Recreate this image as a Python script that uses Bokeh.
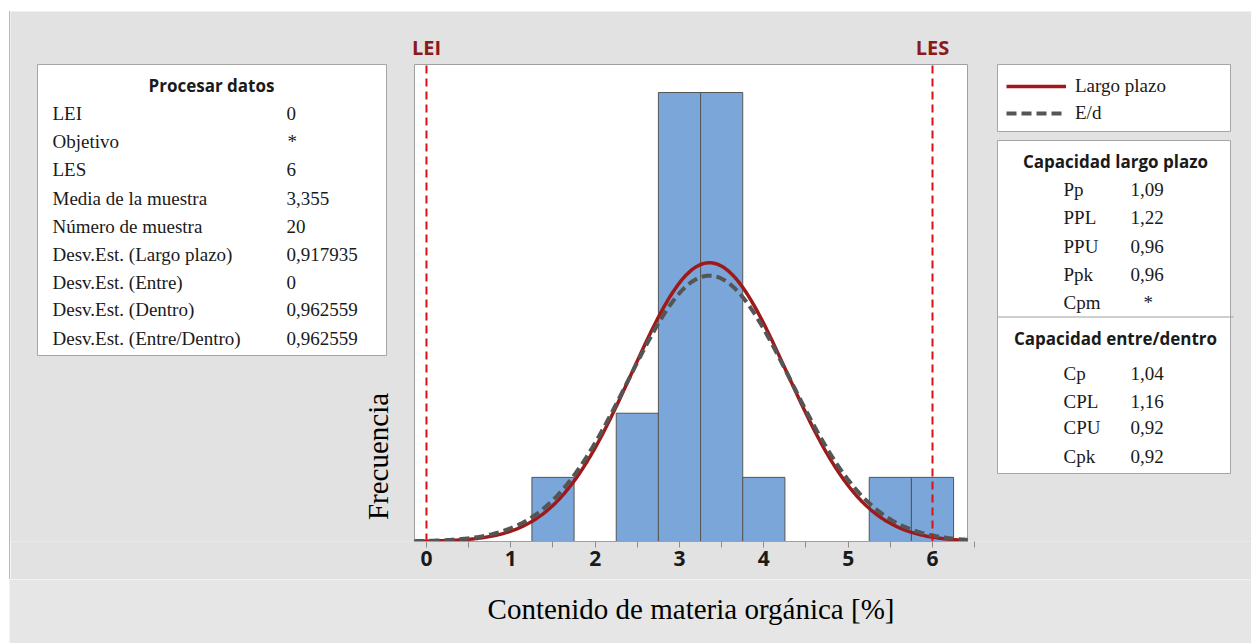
import math
import numpy as np
from bokeh.plotting import figure
from bokeh.layouts import column, row
from bokeh.models import (Legend, LegendItem, FixedTicker, Range1d, Spacer)
from bokeh.core.properties import value
from bokeh.embed import file_html
from bokeh.resources import INLINE

# ---------------- data ----------------
bin_centers = [1.5, 2.5, 3.0, 3.5, 4.0, 5.5, 6.0]
bin_counts = [1, 2, 7, 7, 1, 1, 1]
bin_width = 0.5
spec_lower = 0.0
spec_upper = 6.0
spec_names = ["LEI", "LES"]
sample_mean = 3.355
sample_n = 20
sd_overall = 0.917935
sd_within = 0.962559
x_ticks = [0, 1, 2, 3, 4, 5, 6]
x_min, x_max = -0.142, 6.415
y_max = 7.437

proc_title = "Procesar datos"
proc_labels = ["LEI", "Objetivo", "LES", "Media de la muestra", "Número de muestra",
               "Desv.Est. (Largo plazo)", "Desv.Est. (Entre)", "Desv.Est. (Dentro)",
               "Desv.Est. (Entre/Dentro)"]
proc_values = ["0", "*", "6", "3,355", "20", "0,917935", "0", "0,962559", "0,962559"]

lp_title = "Capacidad largo plazo"
lp_labels = ["Pp", "PPL", "PPU", "Ppk", "Cpm"]
lp_values = ["1,09", "1,22", "0,96", "0,96", "*"]

ed_title = "Capacidad entre/dentro"
ed_labels = ["Cp", "CPL", "CPU", "Cpk"]
ed_values = ["1,04", "1,16", "0,92", "0,92"]

legend_labels = ["Largo plazo", "E/d"]
x_title = "Contenido de materia orgánica [%]"
y_title = "Frecuencia"

# ---------------- layout constants (page pixels) ----------------
W, H = 1251, 643
OX, OY = 9, 11            # white margin left / top
LX = OX + 1               # after the thin grey border line
FL, FR, FT, FB = 414, 967, 64, 541   # histogram area
STRIP = 579               # start of the lower grey strip
MAIN_H = STRIP - OY

SERIF = "Liberation Serif"
SANS = "Open Sans"
TXT = "#1a1a1a"
BOX_LINE = "#a6a6a6"
GREY = "#e2e2e2"

kx = (FR - FL) / (x_max - x_min)
ky = (FB - FT) / y_max

p = figure(width=W - LX, height=MAIN_H, output_backend="svg", toolbar_location=None,
           x_range=Range1d(x_min - (FL - LX) / kx, x_max + (W - FR) / kx),
           y_range=Range1d(0, y_max + (FT - OY) / ky),
           y_axis_location=None,
           min_border_left=0, min_border_right=0, min_border_top=0,
           min_border_bottom=STRIP - FB)
p.extra_x_ranges = {"px": Range1d(LX, W)}
p.extra_y_ranges = {"px": Range1d(FB, OY)}
p.border_fill_color = GREY
p.background_fill_color = GREY
p.outline_line_color = None
p.grid.visible = False

PX = dict(x_range_name="px", y_range_name="px")

def boxes(x0, y0, x1, y1, fill, line=None):
    p.quad(left=x0, right=x1, top=y0, bottom=y1, fill_color=fill,
           line_color=line, line_width=1, **PX)

def texts(xs, ys, ts, font=SERIF, size=19, bold=False, align="left", color=TXT, angle=0.0):
    p.text(x=xs, y=ys, text=ts, text_font=value(font), text_font_size=value(f"{size}px"),
           text_font_style="bold" if bold else "normal", text_align=align,
           text_baseline="middle", text_color=color, angle=angle, **PX)

# ---------------- histogram area ----------------
p.quad(left=[x_min], right=[x_max], bottom=[0], top=[y_max],
       fill_color="#ffffff", line_color="#a0a0a0", line_width=1)

lefts = [c - bin_width / 2 for c in bin_centers]
rights = [c + bin_width / 2 for c in bin_centers]
p.quad(left=lefts, right=rights, bottom=0, top=bin_counts,
       fill_color="#7ba6d9", line_color="#555555", line_width=1)

xs = np.linspace(x_min, x_max, 400)
scale = sample_n * bin_width
def normal_curve(sd):
    return scale * np.exp(-0.5 * ((xs - sample_mean) / sd) ** 2) / (sd * math.sqrt(2 * math.pi))

r_lp = p.line(xs, normal_curve(sd_overall), line_color="#9e1a1a", line_width=3.5)
r_ed = p.line(xs, normal_curve(sd_within), line_color="#555555", line_width=4,
              line_dash="10 5")

specs = [spec_lower, spec_upper]
p.segment(x0=specs, x1=specs, y0=[0, 0], y1=[y_max, y_max], line_color="#dd1111",
          line_width=2, line_dash="8 5")
p.text(x=specs, y=[47, 47], text=spec_names, y_range_name="px",
       text_font=value(SANS), text_font_size=value("20px"), text_font_style="bold",
       text_align="center", text_baseline="middle", text_color="#8b1a1a")

# ---------------- axis ----------------
ax = p.xaxis[0]
ax.bounds = (x_min, x_max)
ax.ticker = FixedTicker(ticks=x_ticks, minor_ticks=[t + 0.5 for t in x_ticks])
ax.axis_line_color = "#a0a0a0"
ax.major_tick_line_color = "#8c8c8c"
ax.minor_tick_line_color = "#8c8c8c"
ax.major_tick_out = 6
ax.major_tick_in = 0
ax.minor_tick_out = 6
ax.minor_tick_in = 0
ax.major_label_text_font = SANS
ax.major_label_text_font_size = "21px"
ax.major_label_text_font_style = "bold"
ax.major_label_text_color = TXT
ax.major_label_standoff = 3

texts([377], [456], [y_title], size=29, align="center", color="#000000", angle=math.pi / 2)

# ---------------- left table ----------------
boxes([37], [64], [386], [355], "#ffffff", BOX_LINE)
texts([211], [85], [proc_title], font=SANS, size=17, bold=True, align="center")
proc_rows = [113, 141, 169, 198, 226, 254, 282, 309, 338]
texts([52] * len(proc_labels), proc_rows, proc_labels)
texts([287 if v == "*" else 286 for v in proc_values], proc_rows, proc_values)

# ---------------- legend ----------------
boxes([997], [64], [1230], [131], "#ffffff", BOX_LINE)
legend = Legend(items=[LegendItem(label=legend_labels[0], renderers=[r_lp]),
                       LegendItem(label=legend_labels[1], renderers=[r_ed])],
                location=(1006 - LX, FB - 124),
                label_text_font=SERIF, label_text_font_size="19px",
                label_text_color=TXT, label_height=22, glyph_height=22,
                glyph_width=60, label_standoff=9, spacing=5, padding=0, margin=0,
                border_line_alpha=0, background_fill_alpha=0)
p.add_layout(legend)

# ---------------- capability table ----------------
boxes([997], [140], [1230], [473], "#ffffff", BOX_LINE)
boxes([997], [316], [1233], [317], "#a0a0a0")
texts([1115], [161], [lp_title], font=SANS, size=17, bold=True, align="center")
lp_rows = [189, 217, 246, 274, 302]
texts([1063] * len(lp_labels), lp_rows, lp_labels)
texts([1143 if v == "*" else 1130 for v in lp_values], lp_rows, lp_values)
texts([1115], [338], [ed_title], font=SANS, size=17, bold=True, align="center")
ed_rows = [373, 401, 427, 456]
texts([1063] * len(ed_labels), ed_rows, ed_labels)
texts([1130] * len(ed_values), ed_rows, ed_values)

# ---------------- lower strip with the x title ----------------
b = figure(width=W - OX, height=H - STRIP, output_backend="svg", toolbar_location=None,
           x_range=Range1d(OX, W), y_range=Range1d(H, STRIP),
           x_axis_location=None, y_axis_location=None,
           min_border_left=0, min_border_right=0, min_border_top=0, min_border_bottom=0)
b.border_fill_color = "#e6e6e6"
b.background_fill_color = "#e6e6e6"
b.outline_line_color = None
b.grid.visible = False
b.text(x=[(FL + FR) / 2], y=[608], text=[x_title], text_font=value(SERIF),
       text_font_size=value("29px"), text_align="center", text_baseline="middle",
       text_color="#000000")

edge = Spacer(width=1, height=MAIN_H, styles={"background-color": "#b8b8b8"})
layout = column(Spacer(width=W, height=OY),
                row(Spacer(width=OX, height=H - OY),
                    column(row(edge, p, spacing=0), b, spacing=0),
                    spacing=0),
                spacing=0)

open("out.html", "w").write(file_html(layout, INLINE))
